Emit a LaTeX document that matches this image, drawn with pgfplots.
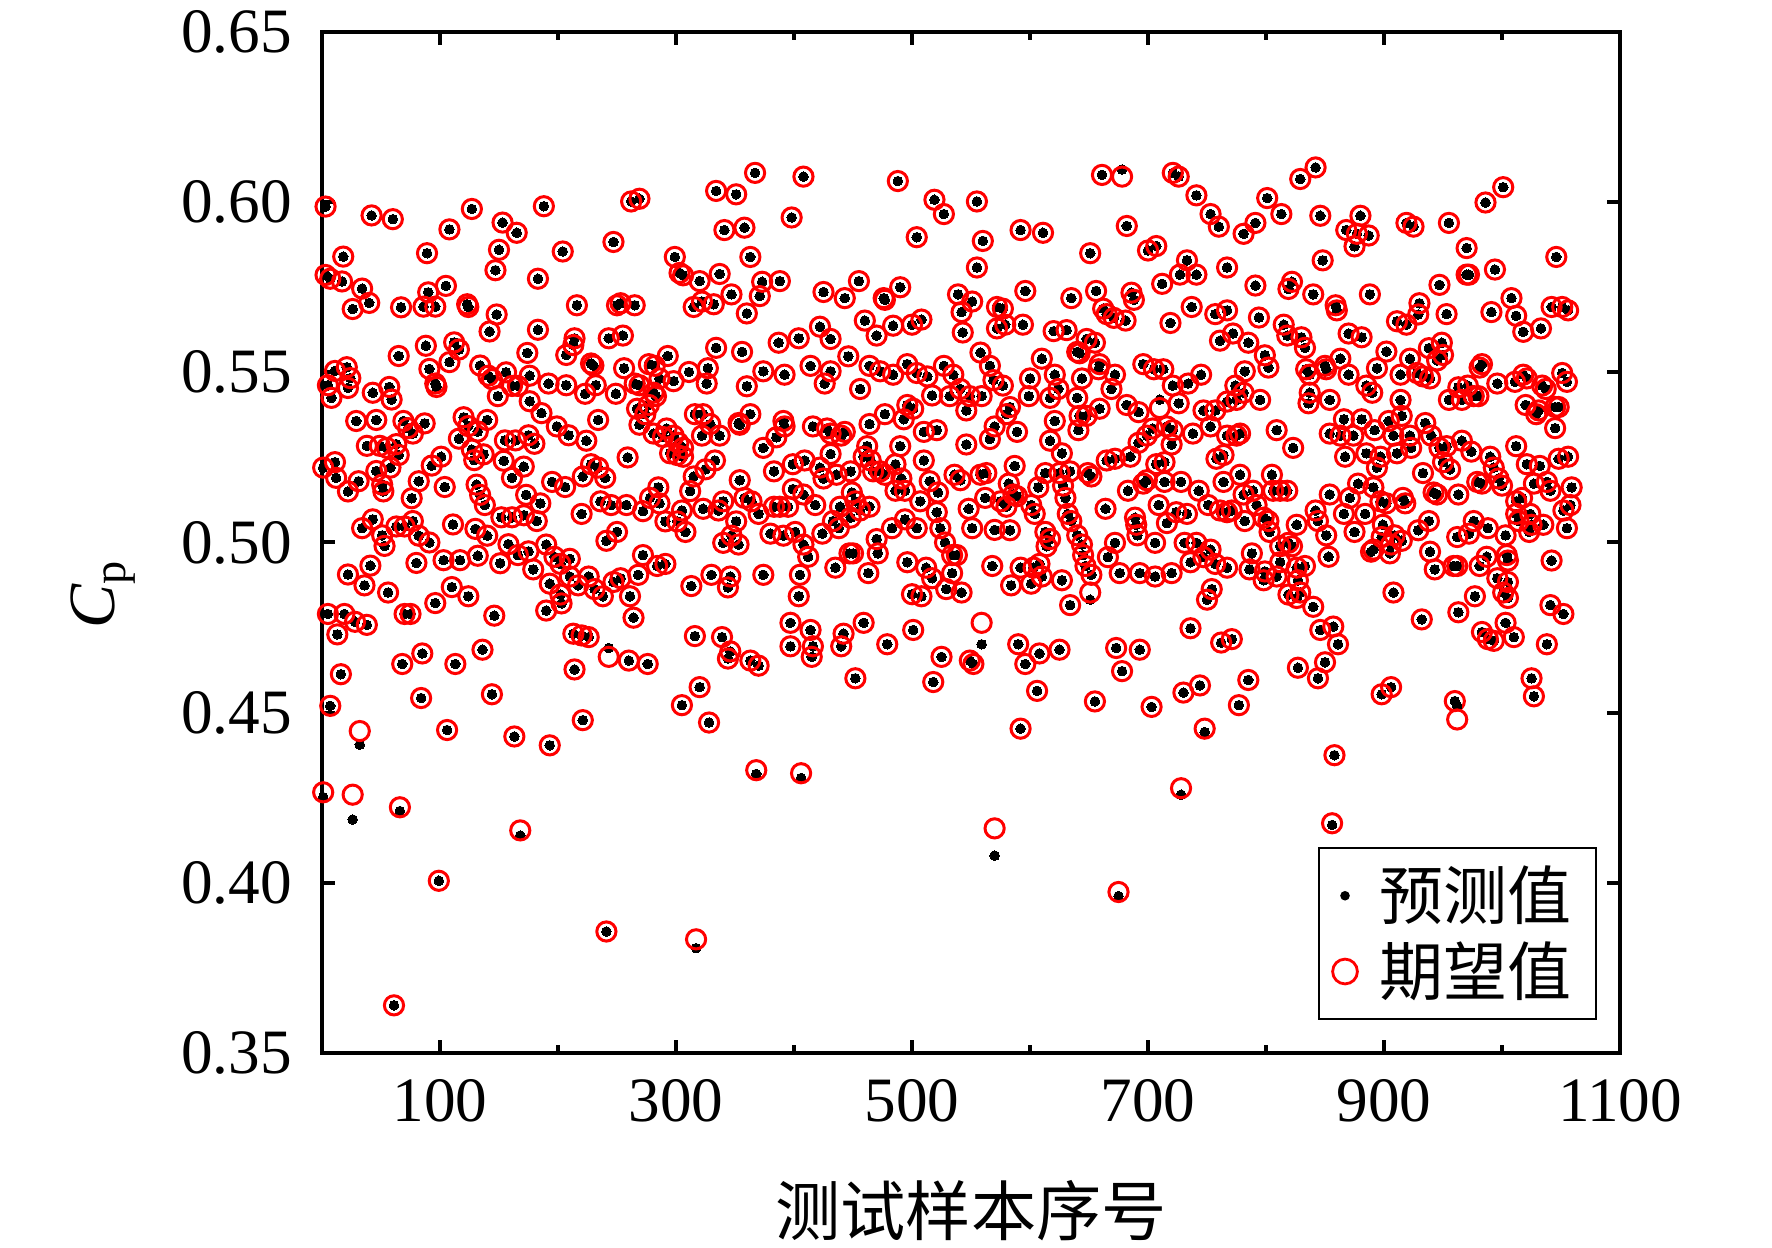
\documentclass[border=0pt]{standalone}
\usepackage{fontspec}
\setmainfont{Liberation Serif}
\newfontfamily\cjk{Noto Sans CJK SC}
\usepackage{pgfplots}
\usepackage{pgfplotstable}
\pgfplotsset{compat=1.18}

% samples where predicted == expected (x, Cp)
\pgfplotstableread[row sep=\\]{
x y\\
3 0.5987\\ 42 0.5961\\ 60 0.5950\\ 108 0.5920\\ 127 0.5980\\ 153 0.5940\\ 165 0.5910\\ 188 0.5988\\
18 0.5840\\ 89 0.5850\\ 150 0.5860\\ 147 0.5800\\ 183 0.5775\\ 3 0.5786\\ 7 0.5775\\ 17 0.5767\\ 34 0.5746\\ 26 0.5686\\ 40 0.5704\\ 67 0.5691\\ 90 0.5735\\ 105 0.5754\\ 86 0.5693\\ 96 0.5693\\ 123 0.5700\\ 124 0.5692\\ 148 0.5670\\ 142 0.5620\\ 183 0.5625\\
65 0.5548\\ 88 0.5578\\ 112 0.5588\\ 116 0.5567\\ 108 0.5530\\ 174 0.5557\\ 11 0.5504\\ 21 0.5515\\ 24 0.5483\\ 5 0.5462\\ 8 0.5425\\ 22 0.5454\\ 43 0.5440\\ 57 0.5457\\ 59 0.5420\\ 91 0.5510\\ 96 0.5467\\ 97 0.5457\\ 134 0.5520\\ 141 0.5490\\ 144 0.5480\\ 156 0.5500\\ 161 0.5460\\ 166 0.5460\\ 149 0.5430\\ 176 0.5490\\ 176 0.5415\\ 186 0.5380\\
29 0.5357\\ 46 0.5360\\ 69 0.5357\\ 73 0.5336\\ 77 0.5320\\ 87 0.5350\\ 38 0.5284\\ 49 0.5284\\ 55 0.5278\\ 63 0.5289\\ 65 0.5257\\ 120 0.5368\\ 124 0.5342\\ 116 0.5305\\ 132 0.5326\\ 140 0.5360\\ 101 0.5252\\ 93 0.5226\\ 127 0.5273\\ 129 0.5242\\ 137 0.5259\\ 155 0.5300\\ 164 0.5300\\ 175 0.5315\\ 180 0.5290\\ 154 0.5240\\ 171 0.5223\\
1 0.5220\\ 11 0.5236\\ 12 0.5190\\ 22 0.5150\\ 31 0.5180\\ 46 0.5210\\ 51 0.5170\\ 52 0.5150\\ 58 0.5220\\ 76 0.5130\\ 82 0.5180\\ 104 0.5163\\ 131 0.5170\\ 134 0.5140\\ 138 0.5110\\ 161 0.5190\\ 173 0.5140\\ 185 0.5115\\
34 0.5042\\ 43 0.5068\\ 51 0.5021\\ 53 0.4990\\ 63 0.5047\\ 70 0.5047\\ 77 0.5063\\ 82 0.5020\\ 91 0.5000\\ 111 0.5053\\ 130 0.5040\\ 140 0.5020\\ 152 0.5074\\ 161 0.5074\\ 171 0.5080\\ 182 0.5063\\ 158 0.4995\\ 166 0.4963\\ 175 0.4974\\ 179 0.4921\\
22 0.4906\\ 36 0.4874\\ 41 0.4932\\ 56 0.4853\\ 80 0.4940\\ 103 0.4948\\ 117 0.4948\\ 132 0.4961\\ 151 0.4939\\ 110 0.4869\\ 124 0.4842\\ 5 0.4790\\ 19 0.4790\\ 28 0.4767\\ 38 0.4758\\ 13 0.4730\\ 70 0.4790\\ 75 0.4790\\ 96 0.4822\\ 146 0.4785\\ 85 0.4674\\ 68 0.4643\\ 113 0.4643\\ 136 0.4685\\ 16 0.4613\\ 84 0.4543\\ 144 0.4554\\ 7 0.4520\\
99 0.4006\\ 106 0.4449\\ 163 0.4430\\ 193 0.4404\\ 61 0.3640\\
262 0.6002\\ 269 0.6010\\ 334 0.6033\\ 351 0.6023\\ 367 0.6086\\ 341 0.5918\\ 358 0.5925\\ 247 0.5883\\ 204 0.5855\\ 299 0.5839\\ 363 0.5839\\ 303 0.5792\\ 306 0.5785\\ 320 0.5768\\ 337 0.5789\\ 347 0.5729\\ 360 0.5673\\ 373 0.5766\\ 371 0.5724\\ 216 0.5697\\ 250 0.5697\\ 253 0.5703\\ 265 0.5697\\ 315 0.5692\\ 322 0.5708\\ 332 0.5700\\ 214 0.5600\\ 213 0.5580\\ 243 0.5600\\ 255 0.5608\\ 207 0.5551\\ 228 0.5526\\ 230 0.5520\\ 334 0.5572\\ 356 0.5560\\
192 0.5467\\ 207 0.5462\\ 223 0.5437\\ 232 0.5462\\ 249 0.5437\\ 256 0.5512\\ 265 0.5467\\ 269 0.5462\\ 277 0.5524\\ 282 0.5519\\ 281 0.5440\\ 283 0.5430\\ 293 0.5548\\ 286 0.5482\\ 298 0.5474\\ 311 0.5501\\ 327 0.5512\\ 326 0.5467\\ 360 0.5459\\ 374 0.5503\\
199 0.5341\\ 209 0.5315\\ 224 0.5299\\ 234 0.5360\\ 267 0.5393\\ 274 0.5377\\ 277 0.5404\\ 269 0.5346\\ 281 0.5320\\ 289 0.5310\\ 292 0.5335\\ 298 0.5314\\ 302 0.5293\\ 306 0.5278\\ 295 0.5262\\ 306 0.5252\\ 301 0.5257\\ 316 0.5377\\ 323 0.5377\\ 329 0.5348\\ 322 0.5314\\ 337 0.5314\\ 353 0.5351\\ 354 0.5346\\ 363 0.5377\\ 374 0.5278\\
195 0.5178\\ 206 0.5163\\ 221 0.5194\\ 228 0.5230\\ 234 0.5220\\ 240 0.5190\\ 259 0.5250\\ 220 0.5084\\ 236 0.5121\\ 245 0.5110\\ 258 0.5110\\ 272 0.5092\\ 278 0.5131\\ 285 0.5162\\ 286 0.5115\\ 291 0.5062\\ 301 0.5062\\ 305 0.5094\\ 308 0.5031\\ 312 0.5151\\ 315 0.5194\\ 323 0.5099\\ 325 0.5215\\ 333 0.5241\\ 336 0.5094\\ 340 0.5121\\ 354 0.5183\\ 358 0.5131\\ 364 0.5121\\ 351 0.5062\\ 340 0.4999\\ 347 0.5020\\ 353 0.4994\\ 370 0.5084\\ 241 0.5005\\ 250 0.5031\\ 272 0.4963\\
190 0.4994\\ 197 0.4958\\ 202 0.4937\\ 210 0.4952\\ 193 0.4879\\ 202 0.4847\\ 203 0.4821\\ 190 0.4800\\ 210 0.4900\\ 217 0.4874\\ 226 0.4900\\ 231 0.4863\\ 238 0.4842\\ 247 0.4884\\ 253 0.4895\\ 261 0.4842\\ 268 0.4905\\ 264 0.4779\\ 284 0.4931\\ 291 0.4937\\ 313 0.4872\\ 330 0.4905\\ 346 0.4900\\ 344 0.4868\\ 374 0.4905\\
213 0.4732\\ 220 0.4727\\ 226 0.4722\\ 260 0.4653\\ 276 0.4643\\ 214 0.4627\\ 316 0.4725\\ 339 0.4722\\ 346 0.4680\\ 344 0.4659\\ 363 0.4653\\ 370 0.4638\\ 320 0.4575\\ 305 0.4522\\ 221 0.4478\\ 241 0.3857\\ 328 0.4471\\
408 0.6075\\ 488 0.6062\\ 519 0.6007\\ 527 0.5965\\ 555 0.6002\\ 398 0.5955\\ 504 0.5897\\ 560 0.5886\\ 555 0.5808\\ 388 0.5768\\ 425 0.5736\\ 443 0.5718\\ 455 0.5768\\ 476 0.5718\\ 477 0.5713\\ 490 0.5750\\ 539 0.5729\\ 551 0.5708\\ 542 0.5677\\ 572 0.5692\\
387 0.5587\\ 404 0.5600\\ 422 0.5634\\ 431 0.5598\\ 460 0.5652\\ 470 0.5608\\ 484 0.5637\\ 500 0.5640\\ 508 0.5655\\ 543 0.5617\\ 572 0.5629\\ 392 0.5493\\ 414 0.5519\\ 431 0.5503\\ 426 0.5467\\ 446 0.5547\\ 456 0.5451\\ 464 0.5519\\ 473 0.5503\\ 484 0.5493\\ 496 0.5524\\ 504 0.5498\\ 513 0.5488\\ 527 0.5519\\ 535 0.5493\\ 517 0.5432\\ 532 0.5430\\ 541 0.5451\\ 549 0.5430\\ 559 0.5430\\ 546 0.5388\\ 558 0.5558\\ 566 0.5519\\ 569 0.5477\\
496 0.5404\\ 501 0.5393\\ 477 0.5377\\ 493 0.5362\\ 464 0.5348\\ 391 0.5357\\ 392 0.5341\\ 385 0.5309\\ 416 0.5341\\ 428 0.5335\\ 431 0.5320\\ 440 0.5314\\ 443 0.5325\\ 510 0.5325\\ 521 0.5330\\ 546 0.5288\\ 566 0.5304\\ 570 0.5341\\ 462 0.5283\\ 459 0.5252\\ 490 0.5283\\ 431 0.5260\\ 399 0.5230\\ 409 0.5241\\ 383 0.5209\\ 422 0.5220\\
425 0.5188\\ 436 0.5199\\ 448 0.5209\\ 465 0.5241\\ 467 0.5209\\ 473 0.5209\\ 477 0.5199\\ 486 0.5230\\ 491 0.5188\\ 486 0.5152\\ 510 0.5241\\ 515 0.5180\\ 522 0.5147\\ 536 0.5199\\ 541 0.5183\\ 558 0.5199\\ 563 0.5204\\ 562 0.5131\\ 383 0.5105\\ 388 0.5105\\ 395 0.5105\\ 399 0.5157\\ 408 0.5141\\ 418 0.5110\\ 449 0.5147\\ 452 0.5121\\ 464 0.5105\\ 439 0.5105\\ 448 0.5073\\ 456 0.5094\\ 507 0.5121\\ 494 0.5152\\ 521 0.5089\\ 548 0.5099\\
433 0.5063\\ 438 0.5042\\ 380 0.5026\\ 391 0.5020\\ 401 0.5031\\ 424 0.5026\\ 408 0.4994\\ 412 0.4958\\ 483 0.5042\\ 494 0.5068\\ 504 0.5042\\ 524 0.5042\\ 528 0.5000\\ 534 0.4963\\ 538 0.4963\\ 551 0.5042\\ 570 0.5037\\ 470 0.5010\\ 471 0.4968\\ 447 0.4968\\ 450 0.4968\\ 405 0.4905\\ 435 0.4926\\ 463 0.4910\\ 496 0.4942\\ 512 0.4926\\ 517 0.4895\\ 534 0.4910\\ 568 0.4931\\
404 0.4842\\ 500 0.4848\\ 508 0.4842\\ 529 0.4863\\ 542 0.4853\\ 397 0.4764\\ 414 0.4743\\ 442 0.4732\\ 459 0.4764\\ 501 0.4743\\ 397 0.4695\\ 416 0.4695\\ 415 0.4664\\ 440 0.4695\\ 479 0.4701\\ 525 0.4664\\ 549 0.4653\\ 552 0.4643\\ 452 0.4601\\ 518 0.4590\\
661 0.6080\\ 721 0.6086\\ 726 0.6075\\ 741 0.6020\\ 753 0.5965\\ 760 0.5928\\ 592 0.5918\\ 611 0.5910\\ 682 0.5930\\ 651 0.5850\\ 700 0.5858\\ 707 0.5871\\ 733 0.5829\\ 727 0.5787\\ 741 0.5787\\ 712 0.5760\\ 767 0.5808\\ 596 0.5739\\ 635 0.5718\\ 656 0.5739\\ 662 0.5687\\ 665 0.5671\\ 671 0.5660\\ 686 0.5734\\ 688 0.5713\\ 681 0.5652\\ 577 0.5687\\ 579 0.5640\\ 594 0.5640\\
620 0.5621\\ 631 0.5624\\ 648 0.5598\\ 655 0.5587\\ 640 0.5560\\ 642 0.5556\\ 719 0.5645\\ 737 0.5692\\ 757 0.5671\\ 767 0.5682\\ 761 0.5593\\ 610 0.5540\\ 600 0.5482\\ 621 0.5493\\ 624 0.5451\\ 617 0.5425\\ 599 0.5430\\ 640 0.5425\\ 644 0.5482\\ 658 0.5509\\ 659 0.5524\\ 672 0.5493\\ 669 0.5451\\ 577 0.5461\\ 583 0.5398\\ 580 0.5377\\ 696 0.5524\\ 705 0.5509\\ 713 0.5509\\ 721 0.5461\\ 734 0.5467\\ 745 0.5493\\ 726 0.5409\\
747 0.5388\\ 757 0.5388\\ 753 0.5341\\ 767 0.5414\\ 621 0.5357\\ 642 0.5372\\ 648 0.5372\\ 641 0.5330\\ 659 0.5393\\ 682 0.5404\\ 692 0.5383\\ 589 0.5325\\ 617 0.5299\\ 627 0.5262\\ 692 0.5293\\ 699 0.5314\\ 704 0.5335\\ 716 0.5341\\ 721 0.5330\\ 720 0.5288\\ 738 0.5320\\ 767 0.5314\\ 587 0.5225\\ 665 0.5241\\ 672 0.5246\\ 685 0.5252\\ 707 0.5230\\ 714 0.5236\\ 758 0.5246\\ 764 0.5257\\
582 0.5173\\ 586 0.5141\\ 589 0.5136\\ 607 0.5162\\ 613 0.5204\\ 625 0.5204\\ 634 0.5209\\ 628 0.5167\\ 630 0.5131\\ 649 0.5204\\ 652 0.5194\\ 683 0.5152\\ 696 0.5173\\ 699 0.5183\\ 714 0.5178\\ 728 0.5178\\ 743 0.5152\\ 764 0.5178\\ 575 0.5121\\ 580 0.5105\\ 604 0.5084\\ 601 0.5110\\ 632 0.5084\\ 635 0.5063\\ 640 0.5021\\ 664 0.5099\\ 689 0.5073\\ 690 0.5052\\ 691 0.5021\\ 709 0.5110\\ 716 0.5057\\ 724 0.5089\\ 733 0.5084\\ 751 0.5110\\ 761 0.5094\\ 767 0.5089\\
583 0.5036\\ 613 0.5031\\ 617 0.5010\\ 614 0.4989\\ 644 0.4994\\ 645 0.4963\\ 647 0.4931\\ 672 0.4999\\ 666 0.4957\\ 706 0.4999\\ 731 0.4999\\ 741 0.4999\\ 753 0.4979\\ 736 0.4942\\ 747 0.4957\\ 757 0.4937\\ 767 0.4926\\ 592 0.4926\\ 603 0.4926\\ 608 0.4937\\ 610 0.4900\\ 601 0.4879\\ 584 0.4874\\ 627 0.4889\\ 652 0.4905\\ 676 0.4910\\ 693 0.4910\\ 706 0.4900\\ 720 0.4910\\
634 0.4816\\ 750 0.4832\\ 754 0.4863\\ 736 0.4748\\ 762 0.4706\\ 590 0.4701\\ 596 0.4643\\ 608 0.4674\\ 625 0.4685\\ 673 0.4690\\ 693 0.4685\\ 678 0.4622\\ 606 0.4564\\ 655 0.4533\\ 730 0.4559\\ 744 0.4580\\ 703 0.4517\\ 592 0.4453\\
842 0.6102\\ 829 0.6068\\ 801 0.6012\\ 813 0.5965\\ 791 0.5939\\ 781 0.5907\\ 846 0.5960\\ 880 0.5960\\ 868 0.5918\\ 877 0.5907\\ 887 0.5902\\ 875 0.5870\\ 919 0.5939\\ 925 0.5928\\ 955 0.5939\\ 848 0.5829\\ 791 0.5755\\ 822 0.5766\\ 819 0.5745\\ 840 0.5729\\ 859 0.5697\\ 860 0.5682\\ 888 0.5729\\ 947 0.5757\\ 930 0.5703\\ 929 0.5670\\ 953 0.5671\\ 911 0.5650\\ 919 0.5640\\
794 0.5661\\ 815 0.5640\\ 818 0.5608\\ 830 0.5603\\ 833 0.5572\\ 870 0.5614\\ 881 0.5603\\ 772 0.5614\\ 785 0.5587\\ 799 0.5550\\ 802 0.5514\\ 782 0.5503\\ 834 0.5509\\ 837 0.5493\\ 850 0.5519\\ 851 0.5509\\ 863 0.5540\\ 870 0.5493\\ 902 0.5561\\ 894 0.5512\\ 922 0.5540\\ 914 0.5493\\ 928 0.5498\\ 933 0.5488\\ 939 0.5482\\ 938 0.5571\\ 949 0.5587\\ 950 0.5551\\ 945 0.5535\\
774 0.5461\\ 781 0.5440\\ 775 0.5419\\ 795 0.5419\\ 837 0.5440\\ 836 0.5409\\ 854 0.5419\\ 885 0.5461\\ 890 0.5440\\ 914 0.5419\\ 955 0.5419\\ 778 0.5320\\ 775 0.5314\\ 809 0.5330\\ 823 0.5278\\ 866 0.5362\\ 854 0.5320\\ 863 0.5314\\ 874 0.5314\\ 881 0.5362\\ 892 0.5330\\ 885 0.5262\\ 904 0.5357\\ 915 0.5372\\ 908 0.5314\\ 922 0.5314\\ 923 0.5278\\ 911 0.5262\\ 935 0.5351\\ 940 0.5314\\ 947 0.5278\\ 953 0.5283\\
867 0.5252\\ 897 0.5252\\ 894 0.5220\\ 950 0.5236\\ 956 0.5215\\ 933 0.5204\\ 942 0.5147\\ 945 0.5141\\ 778 0.5199\\ 781 0.5141\\ 789 0.5152\\ 805 0.5199\\ 806 0.5152\\ 812 0.5152\\ 818 0.5152\\ 854 0.5141\\ 878 0.5173\\ 891 0.5162\\ 871 0.5131\\ 866 0.5084\\ 875 0.5031\\ 884 0.5084\\ 897 0.5121\\ 902 0.5115\\ 916 0.5131\\ 918 0.5115\\
792 0.5110\\ 782 0.5063\\ 771 0.5094\\ 798 0.5073\\ 802 0.5063\\ 803 0.5031\\ 842 0.5094\\ 844 0.5063\\ 851 0.5021\\ 826 0.5052\\ 899 0.5052\\ 898 0.5016\\ 909 0.5021\\ 915 0.5005\\ 906 0.4994\\ 929 0.5036\\ 938 0.5063\\ 889 0.4973\\ 891 0.4979\\ 905 0.4968\\ 962 0.5016\\ 812 0.4989\\ 819 0.4999\\ 822 0.4989\\ 788 0.4968\\ 786 0.4921\\
798 0.4889\\ 799 0.4915\\ 809 0.4900\\ 812 0.4942\\ 826 0.4926\\ 833 0.4931\\ 827 0.4889\\ 819 0.4847\\ 826 0.4837\\ 829 0.4853\\ 840 0.4811\\ 853 0.4958\\ 939 0.4973\\ 943 0.4921\\ 959 0.4931\\ 908 0.4853\\ 932 0.4774\\ 771 0.4716\\ 846 0.4743\\ 857 0.4753\\ 861 0.4701\\ 827 0.4632\\ 850 0.4648\\ 785 0.4596\\ 844 0.4601\\ 898 0.4554\\ 906 0.4575\\ 777 0.4522\\ 960 0.4534\\ 858 0.4375\\
986 0.5999\\ 1001 0.6044\\ 970 0.5865\\ 970 0.5787\\ 972 0.5787\\ 994 0.5802\\ 1046 0.5839\\ 991 0.5677\\ 1008 0.5718\\ 1012 0.5666\\ 1018 0.5619\\ 1033 0.5629\\ 1042 0.5692\\ 1051 0.5692\\ 1056 0.5682\\ 983 0.5524\\ 981 0.5514\\ 963 0.5456\\ 971 0.5461\\ 976 0.5430\\ 980 0.5430\\ 966 0.5419\\ 996 0.5467\\ 1011 0.5472\\ 1018 0.5493\\ 1021 0.5482\\ 1034 0.5461\\ 1037 0.5451\\ 1051 0.5498\\ 1055 0.5472\\
1020 0.5404\\ 1031 0.5388\\ 1029 0.5377\\ 1045 0.5398\\ 1048 0.5398\\ 1045 0.5336\\ 966 0.5299\\ 974 0.5267\\ 990 0.5252\\ 993 0.5220\\ 997 0.5188\\ 1000 0.5167\\ 979 0.5178\\ 983 0.5173\\ 963 0.5141\\ 1012 0.5283\\ 1021 0.5230\\ 1032 0.5225\\ 1027 0.5173\\ 1038 0.5178\\ 1041 0.5152\\ 1048 0.5246\\ 1056 0.5252\\ 1059 0.5162\\
1012 0.5121\\ 1017 0.5131\\ 1052 0.5094\\ 1058 0.5110\\ 1012 0.5084\\ 1014 0.5063\\ 1024 0.5084\\ 1025 0.5052\\ 1023 0.5031\\ 1035 0.5052\\ 1055 0.5042\\ 972 0.5026\\ 976 0.5063\\ 988 0.5042\\ 1003 0.5021\\ 962 0.4931\\ 981 0.4931\\ 987 0.4958\\ 1005 0.4947\\ 1004 0.4963\\ 1042 0.4947\\ 996 0.4895\\ 1005 0.4884\\ 1001 0.4853\\ 1005 0.4837\\ 977 0.4842\\ 963 0.4795\\ 1041 0.4816\\ 1052 0.4790\\
983 0.4737\\ 988 0.4716\\ 993 0.4711\\ 1003 0.4764\\ 1010 0.4722\\ 1038 0.4701\\ 1025 0.4601\\ 1027 0.4548\\
}\same

% samples where predicted and expected differ (x, predicted, expected)
\pgfplotstableread[row sep=\\]{
x p e\\
1 0.4252 0.4266\\ 26 0.4186 0.4259\\ 32 0.4406 0.4446\\ 66 0.4211 0.4222\\ 168 0.4139 0.4154\\
243 0.4690 0.4664\\ 317 0.3808 0.3834\\ 368 0.4320 0.4331\\ 406 0.4308 0.4322\\ 559 0.4701 0.4764\\
570 0.4080 0.4160\\ 651 0.4832 0.4853\\ 675 0.3961 0.3973\\ 678 0.6096 0.6075\\ 710 0.5420 0.5395\\
728 0.4259 0.4278\\ 748 0.4443 0.4453\\ 856 0.4170 0.4175\\ 962 0.4520 0.4480\\
}\diff

\begin{document}
\begin{tikzpicture}
\begin{axis}[
  scale only axis,
  width=324.5pt, height=255.25pt,
  at={(0,0)}, anchor=south west,
  xmin=0, xmax=1100, ymin=0.35, ymax=0.65,
  xtick={100,300,500,700,900,1100},
  xticklabels={100,300,500,700,900,1100},
  minor xtick={200,400,600,800,1000},
  ytick={0.35,0.4,0.45,0.5,0.55,0.6,0.65},
  yticklabels={0.35,0.40,0.45,0.50,0.55,0.60,0.65},
  tick align=inside,
  major tick length=3.25pt, minor tick length=2pt,
  every tick/.style={black, line width=1pt},
  axis line style={line width=1pt},
  tick label style={font=\fontsize{15.8}{18}\selectfont},
  xticklabel style={yshift=-3pt},
  yticklabel style={xshift=-4pt},
  xlabel={\cjk 测试样本序号},
  xlabel style={at={(axis description cs:0.5,0)}, anchor=center, yshift=-39.5pt, font=\fontsize{16.3}{18}\selectfont},
  ylabel={\textit{C}\textsubscript{p}},
  ylabel style={at={(axis description cs:-0.1687,0.4495)}, anchor=center, font=\fontsize{16.5}{18}\selectfont},
  legend style={at={(axis description cs:1,0)}, anchor=south east,
    xshift=-5.75pt, yshift=8.25pt,
    draw=black, line width=0.5pt, fill=white,
    inner xsep=4.25pt, inner ysep=2.4pt,
    nodes={inner sep=2pt, text depth=0.15em},
    cells={anchor=west},
    font=\cjk\fontsize{16}{18}\selectfont},
]
\addplot[only marks, mark=*, mark size=1.2pt, mark options={fill=black, draw=black, line width=0pt},
  legend image code/.code={\fill[black,draw=none,overlay] (0,0) circle (1.2pt); \path[draw=none,fill=none] (-2.25pt,0) rectangle (6.5pt,0.01pt);}]
  table[x=x, y=y] {\same};
\addlegendentry{预测值}
\addplot[only marks, mark=o, mark size=2.4pt, mark options={draw=red, line width=0.75pt},
  legend image code/.code={\draw[red,fill=none,line width=0.7pt,overlay] (0,0) circle (3.1pt); \path[draw=none,fill=none] (-2.25pt,0) rectangle (6.5pt,0.01pt);}]
  table[x=x, y=y] {\same};
\addlegendentry{期望值}
\addplot[only marks, mark=*, mark size=1.2pt, mark options={fill=black, draw=black, line width=0pt}, forget plot]
  table[x=x, y=p] {\diff};
\addplot[only marks, mark=o, mark size=2.4pt, mark options={draw=red, line width=0.75pt}, forget plot]
  table[x=x, y=e] {\diff};
\end{axis}
\pgfresetboundingbox
\path[use as bounding box] (-80.5pt,-48.75pt) rectangle (362.5pt,263.25pt);
\end{tikzpicture}
\end{document}
